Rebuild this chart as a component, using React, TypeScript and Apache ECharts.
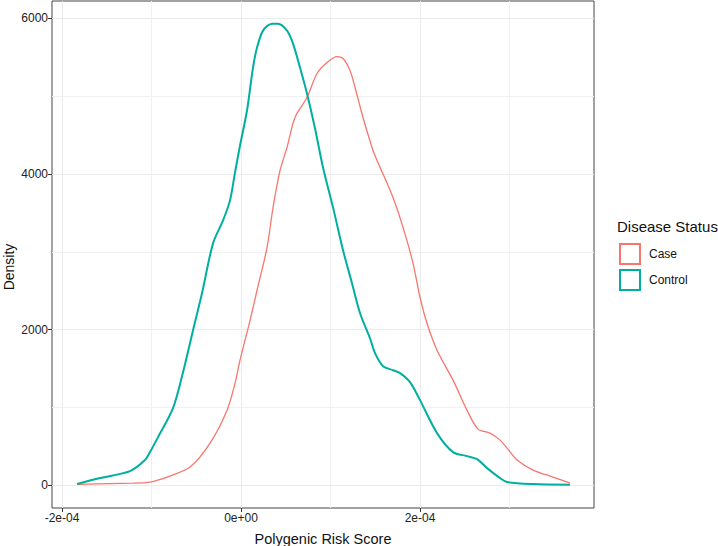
import React, { useEffect, useRef } from "react";
import * as echarts from "echarts";

const controlX = [-1.832e-4, -1.575e-4, -1.24e-4, -1.073e-4, -1.017e-4, -0.927e-4, -0.76e-4, -0.648e-4, -0.536e-4, -0.436e-4, -0.313e-4, -0.201e-4, -0.123e-4, -0.067e-4, -0.011e-4, 0.067e-4, 0.134e-4, 0.179e-4, 0.246e-4, 0.346e-4, 0.413e-4, 0.514e-4, 0.581e-4, 0.659e-4, 0.737e-4, 0.827e-4, 0.916e-4, 1.028e-4, 1.14e-4, 1.24e-4, 1.33e-4, 1.441e-4, 1.497e-4, 1.587e-4, 1.698e-4, 1.777e-4, 1.888e-4, 2.0e-4, 2.19e-4, 2.369e-4, 2.525e-4, 2.637e-4, 2.749e-4, 2.894e-4, 2.972e-4, 3.263e-4, 3.676e-4];
const controlY = [13, 90, 180, 321, 424, 616, 989, 1451, 1991, 2466, 3108, 3404, 3661, 4020, 4367, 4817, 5369, 5626, 5844, 5934, 5934, 5844, 5677, 5369, 5035, 4586, 4085, 3571, 3019, 2595, 2209, 1888, 1696, 1529, 1477, 1439, 1323, 1092, 668, 424, 372, 334, 218, 90, 39, 13, 5];

const caseX = [-1.832e-4, -1.207e-4, -1.017e-4, -0.827e-4, -0.57e-4, -0.346e-4, -0.156e-4, -0.067e-4, -0.011e-4, 0.101e-4, 0.179e-4, 0.291e-4, 0.358e-4, 0.436e-4, 0.514e-4, 0.603e-4, 0.737e-4, 0.849e-4, 0.961e-4, 1.073e-4, 1.14e-4, 1.218e-4, 1.274e-4, 1.363e-4, 1.475e-4, 1.52e-4, 1.698e-4, 1.81e-4, 1.922e-4, 2.0e-4, 2.078e-4, 2.19e-4, 2.369e-4, 2.525e-4, 2.648e-4, 2.782e-4, 2.894e-4, 2.972e-4, 3.084e-4, 3.263e-4, 3.486e-4, 3.676e-4];
const caseY = [10, 25, 39, 103, 231, 539, 963, 1310, 1606, 2119, 2505, 3057, 3571, 4046, 4342, 4727, 4984, 5292, 5433, 5510, 5485, 5331, 5112, 4727, 4303, 4175, 3699, 3314, 2852, 2415, 2081, 1734, 1349, 963, 719, 668, 578, 475, 321, 193, 103, 26];

const xMajorTicks = [-2e-4, 0, 2e-4];
const xMinorTicks = [-1e-4, 1e-4, 3e-4];
const yMajorTicks = [0, 2000, 4000, 6000];
const yMinorTicks = [1000, 3000, 5000];

const X_MIN = -2.112e-4;
const X_MAX = 3.944e-4;
const Y_MIN = -295;
const Y_MAX = 6225;

const CASE_COLOR = "#F8766D";
const CONTROL_COLOR = "#00AFA0";
const FONT = "Liberation Sans, Arial, sans-serif";

function sci(v: number): string {
  if (Math.abs(v) < 1e-15) return "0e+00";
  const exp = Math.floor(Math.log10(Math.abs(v)) + 1e-9);
  const mant = Math.round(v / Math.pow(10, exp));
  const e = String(Math.abs(exp)).padStart(2, "0");
  return `${mant}e${exp < 0 ? "-" : "+"}${e}`;
}

export default function App() {
  const ref = useRef<HTMLDivElement>(null);
  useEffect(() => {
    document.body.style.margin = "0";
    if (!ref.current) return;
    const chart = echarts.init(ref.current, undefined, { renderer: "svg" });
    const zip = (xs: number[], ys: number[]) => xs.map((x, i) => [x, ys[i]]);
    const axisText = { color: "#222", fontSize: 12, fontFamily: FONT };
    chart.setOption({
      animation: false,
      backgroundColor: "#fff",
      grid: {
        left: 52,
        top: 1,
        width: 542,
        height: 507,
        show: true,
        borderColor: "#444",
        borderWidth: 1,
        backgroundColor: "transparent",
      },
      xAxis: [
        {
          type: "value",
          min: X_MIN,
          max: X_MAX,
          position: "bottom",
          axisLine: { show: false, onZero: false },
          axisTick: { show: true, length: 4, inside: false, customValues: xMajorTicks, lineStyle: { color: "#333" } },
          axisLabel: { customValues: xMajorTicks, formatter: (v: number) => sci(v), margin: 4, ...axisText },
          splitLine: { show: true, lineStyle: { color: "#EBEBEB", width: 1 } },
        },
        {
          type: "value",
          min: X_MIN,
          max: X_MAX,
          position: "top",
          axisLine: { show: false, onZero: false },
          axisTick: { show: false, customValues: xMinorTicks },
          axisLabel: { show: false, customValues: xMinorTicks },
          splitLine: { show: true, lineStyle: { color: "#F0F0F0", width: 1 } },
        },
      ],
      yAxis: [
        {
          type: "value",
          min: Y_MIN,
          max: Y_MAX,
          position: "left",
          axisLine: { show: false, onZero: false },
          axisTick: { show: true, length: 4, inside: false, customValues: yMajorTicks, lineStyle: { color: "#333" } },
          axisLabel: { customValues: yMajorTicks, formatter: (v: number) => String(v), margin: 4, ...axisText },
          splitLine: { show: true, lineStyle: { color: "#EBEBEB", width: 1 } },
        },
        {
          type: "value",
          min: Y_MIN,
          max: Y_MAX,
          position: "right",
          axisLine: { show: false, onZero: false },
          axisTick: { show: false, customValues: yMinorTicks },
          axisLabel: { show: false, customValues: yMinorTicks },
          splitLine: { show: true, lineStyle: { color: "#F0F0F0", width: 1 } },
        },
      ],
      legend: {
        orient: "vertical",
        left: 619,
        top: 243,
        padding: 0,
        itemWidth: 20,
        itemHeight: 20,
        itemGap: 4,
        selectedMode: false,
        textStyle: { color: "#111", fontSize: 12, fontFamily: FONT, padding: [0, 0, 0, 4] },
        data: [
          { name: "Case", icon: "rect", itemStyle: { color: "#fff", borderColor: CASE_COLOR, borderWidth: 2 } },
          { name: "Control", icon: "rect", itemStyle: { color: "#fff", borderColor: CONTROL_COLOR, borderWidth: 2 } },
        ],
      },
      graphic: [
        {
          type: "text",
          left: 617,
          top: 219,
          style: { text: "Disease Status", fontSize: 15, fontFamily: FONT, fill: "#111" },
        },
        {
          type: "text",
          x: 9,
          y: 267,
          rotation: Math.PI / 2,
          style: { text: "Density", fontSize: 14, fontFamily: FONT, fill: "#111", align: "center", verticalAlign: "middle" },
        },
        {
          type: "text",
          x: 323,
          y: 539,
          style: { text: "Polygenic Risk Score", fontSize: 14.5, fontFamily: FONT, fill: "#111", align: "center", verticalAlign: "middle" },
        },
      ],
      series: [
        {
          name: "Case",
          type: "line",
          xAxisIndex: 0,
          yAxisIndex: 0,
          data: zip(caseX, caseY),
          showSymbol: false,
          smooth: 0.3,
          lineStyle: { color: CASE_COLOR, width: 1.3 },
          itemStyle: { color: CASE_COLOR },
          z: 3,
        },
        {
          name: "Control",
          type: "line",
          xAxisIndex: 0,
          yAxisIndex: 0,
          data: zip(controlX, controlY),
          showSymbol: false,
          smooth: 0.3,
          lineStyle: { color: CONTROL_COLOR, width: 2 },
          itemStyle: { color: CONTROL_COLOR },
          z: 4,
        },
      ],
    });
    return () => chart.dispose();
  }, []);
  return <div ref={ref} style={{ width: 718, height: 546 }} />;
}
